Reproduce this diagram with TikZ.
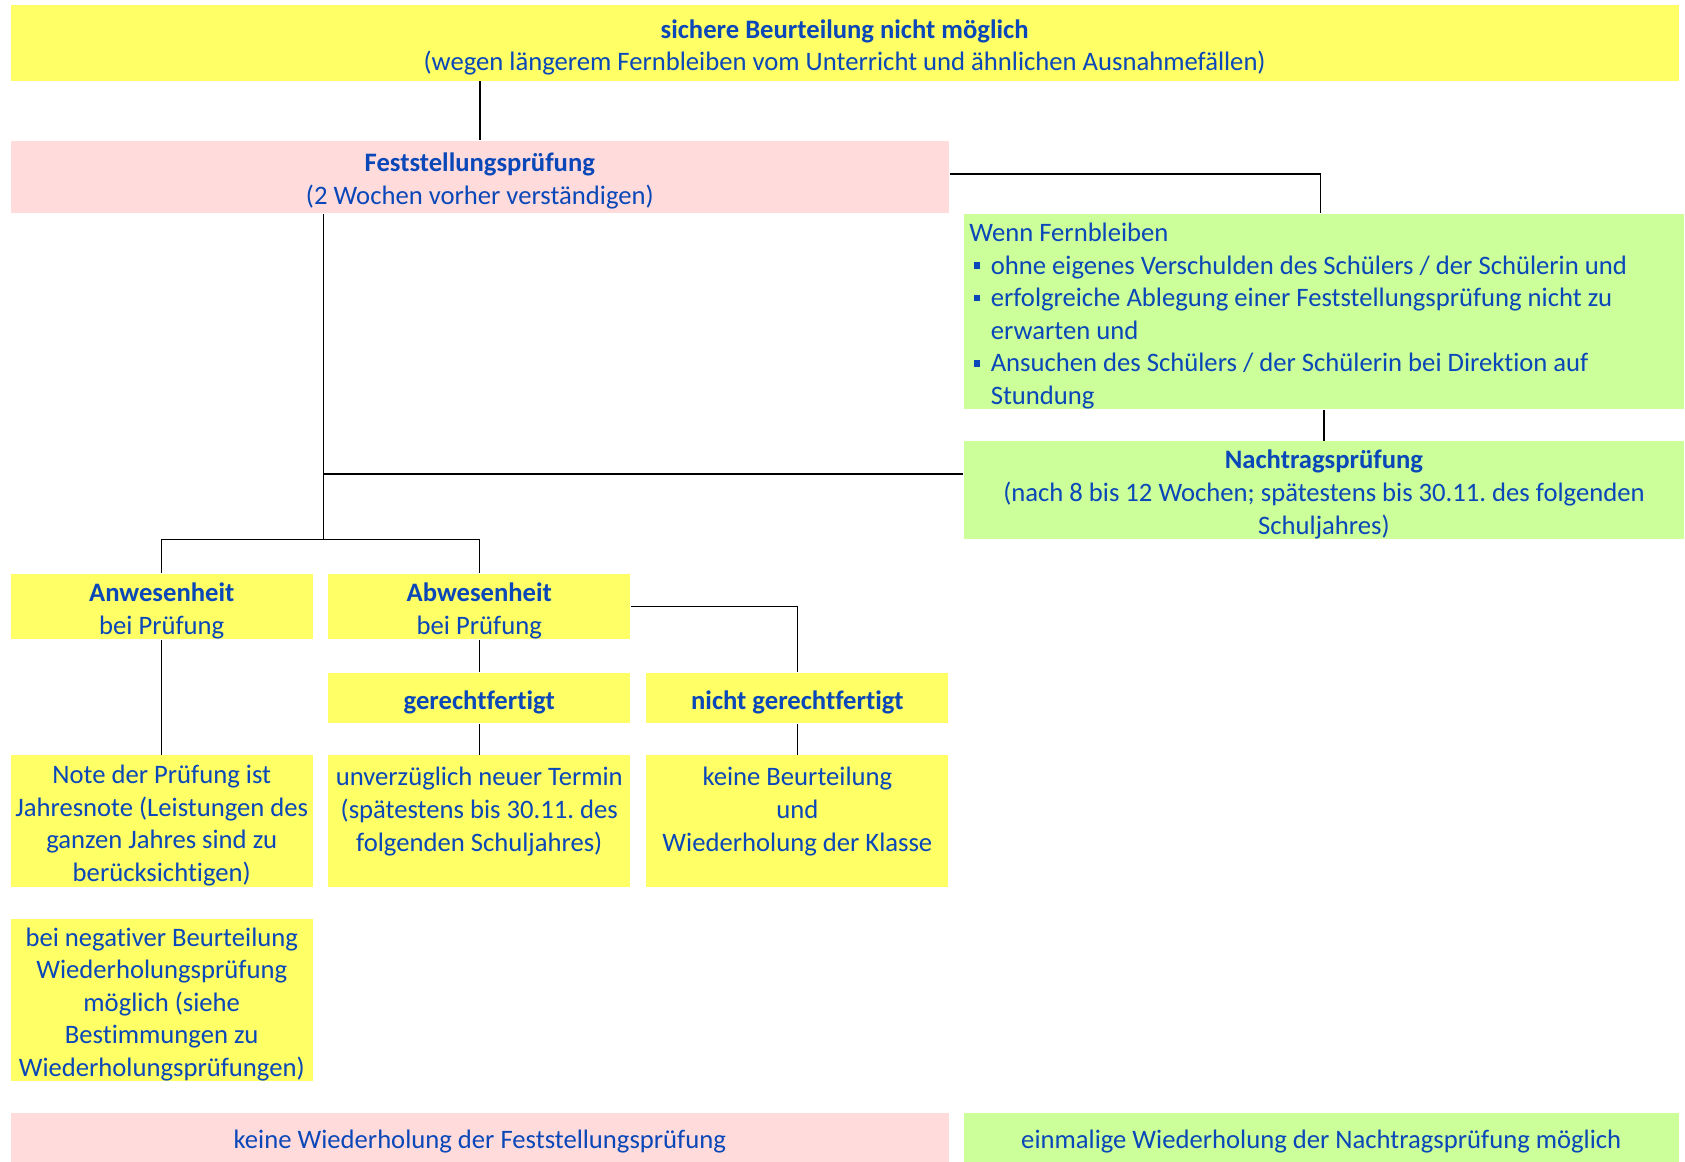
\documentclass[tikz,border=0pt]{standalone}
\usepackage{fontspec}
\setmainfont{Carlito}[Ligatures=NoCommon]
\definecolor{boxyellow}{HTML}{FFFF66}
\definecolor{boxpink}{HTML}{FFDBDB}
\definecolor{boxgreen}{HTML}{CCFF99}
\definecolor{textblue}{HTML}{0A47B8}
\newcommand{\bul}{\makebox[20pt][l]{\hspace{4pt}\rule[5pt]{6pt}{6pt}}}
\newcommand{\ind}{\hspace*{20pt}}
\frenchspacing
\begin{document}
\begin{tikzpicture}[x=1pt,y=-1pt,line width=1.4pt,
  box/.style={inner sep=0pt,align=flush center,text=textblue,font=\fontsize{24.8}{30.3}\selectfont,
    execute at begin node={\rule{0pt}{25.5pt}}},
  yel/.style={box,fill=boxyellow},
  pink/.style={box,fill=boxpink},
  green/.style={box,fill=boxgreen},
  col/.style={minimum width=281pt,text width=277pt},
  wide/.style={minimum width=873pt,text width=865pt},
  half/.style={minimum width=670pt,text width=660pt}]
\useasboundingbox (0,0) rectangle (1568,1081.3);
\node[yel,minimum width=1552pt,text width=1540pt,minimum height=70pt] (top) at (786,40)
  {\textbf{sichere Beurteilung nicht möglich}\\(wegen längerem Fernbleiben vom Unterricht und ähnlichen Ausnahmefällen)};
\node[pink,wide,minimum height=67pt] (fest) at (446.5,164.5)
  {\textbf{Feststellungsprüfung}\\(2 Wochen vorher verständigen)};
\node[green,half,minimum height=182pt,align=flush left] (wenn) at (1232,290)
  {Wenn Fernbleiben\\
   \bul ohne eigenes Verschulden des Schülers / der Schülerin und\\
   \bul erfolgreiche Ablegung einer Feststellungsprüfung nicht zu\\
   \ind erwarten und\\
   \bul Ansuchen des Schülers / der Schülerin bei Direktion auf\\
   \ind Stundung};
\node[green,half,minimum height=90pt] (nach) at (1232,456)
  {\textbf{Nachtragsprüfung}\\(nach 8 bis 12 Wochen; spätestens bis 30.11. des folgenden\\Schuljahres)};
% zweite Ebene
\node[yel,col,minimum height=61pt] (anw) at (150.5,564.5) {\textbf{Anwesenheit}\\bei Prüfung};
\node[yel,col,minimum height=61pt] (abw) at (446,564.5) {\textbf{Abwesenheit}\\bei Prüfung};
\node[yel,col,minimum height=47pt] (ger) at (446,649.5) {\textbf{gerechtfertigt}};
\node[yel,col,minimum height=47pt] (nger) at (742,649.5) {\textbf{nicht gerechtfertigt}};
\node[yel,col,minimum height=122pt] (note) at (150.5,764)
  {Note der Prüfung ist\\Jahresnote (Leistungen des\\ganzen Jahres sind zu\\berücksichtigen)};
\node[yel,col,minimum height=122pt] (unv) at (446,764)
  {unverzüglich neuer Termin\\(spätestens bis 30.11. des\\folgenden Schuljahres)\\\mbox{}};
\node[yel,col,minimum height=122pt] (keine) at (742,764)
  {keine Beurteilung\\und\\Wiederholung der Klasse\\\mbox{}};
\node[yel,col,minimum height=151pt] (neg) at (150.5,930.5)
  {bei negativer Beurteilung\\Wiederholungsprüfung\\möglich (siehe\\Bestimmungen zu\\Wiederholungsprüfungen)};
\node[pink,wide,minimum height=45pt] (fwdh) at (446.5,1058.5)
  {keine Wiederholung der Feststellungsprüfung};
\node[green,minimum width=665pt,text width=655pt,minimum height=45pt] (nwdh) at (1229.5,1058.5)
  {einmalige Wiederholung der Nachtragsprüfung möglich};
% Linien
\coordinate (split) at (301,502);
\coordinate (join) at (301,441);
\coordinate (turn) at (1229,162);
\draw (top.south -| fest.north) -- (fest.north);
\draw (turn -| fest.east) -- (turn) -- (turn |- wenn.north);
\draw (wenn.south) -- (nach.north);
\draw (fest.south -| split) -- (split);
\draw (join) -- (join -| nach.west);
\draw (anw.north) |- (split) -| (abw.north);
\draw (abw.east) -| (nger.north);
\draw (abw.south) -- (ger.north);
\draw (anw.south) -- (note.north);
\draw (ger.south) -- (unv.north);
\draw (nger.south) -- (keine.north);
\end{tikzpicture}
\end{document}
